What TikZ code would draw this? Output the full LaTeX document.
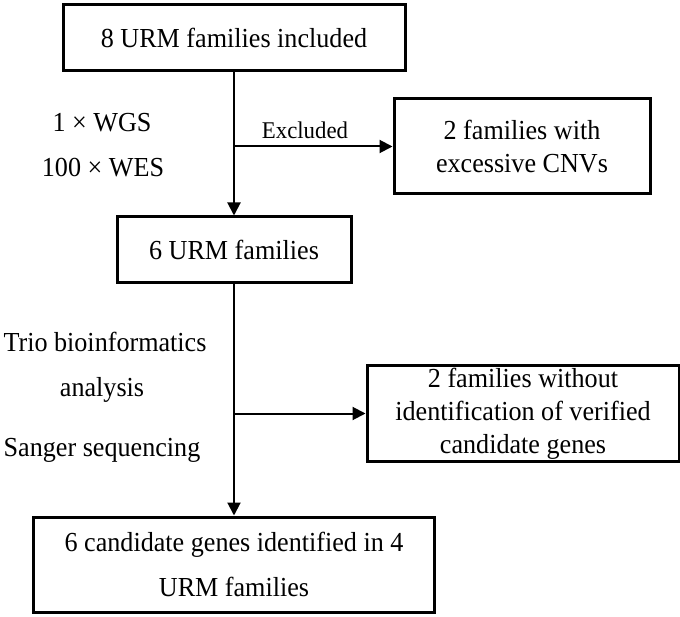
\documentclass[tikz,border=0pt]{standalone}
\usepackage{fontspec}
\setmainfont{Liberation Serif}[FakeStretch=0.95]
\usetikzlibrary{arrows.meta}
\begin{document}
\begin{tikzpicture}[x=1pt,y=-1pt,
  box/.style={draw, line width=3pt, inner sep=0pt, align=center, font=\fontsize{27.5}{33}\selectfont},
  lbl/.style={font=\fontsize{27.5}{30}\selectfont, inner sep=0pt, anchor=base},
  conn/.style={line width=2pt, -{Triangle[length=13pt,width=13pt]}}]
\useasboundingbox (0,0) rectangle (680,617);
\fill[white] (0,0) rectangle (680,617);
\node[box, minimum width=342pt, minimum height=66pt] (b1) at (234,38) {8 URM families included};
\node[box, minimum width=256pt, minimum height=95pt] (b2) at (522,146.5) {2 families with\\excessive CNVs};
\node[box, minimum width=234pt, minimum height=66pt] (b3) at (234,250) {6 URM families};
\node[box, minimum width=312pt, minimum height=95pt] (b5) at (523,413.5) {2 families without\\identification of verified\\candidate genes};
\node[box, minimum width=401pt, minimum height=95pt, font=\fontsize{27.5}{45}\selectfont] (b4) at (234,564.5) {6 candidate genes identified in 4\\URM families};
\coordinate (j1) at (234,146.5);
\coordinate (j2) at (234,413.5);
\draw[conn] (b1.south) -- (b3.north);
\draw[conn] (j1) -- (b2.west);
\draw[conn] (b3.south) -- (b4.north);
\draw[conn] (j2) -- (b5.west);
\node[lbl, font=\fontsize{24}{28}\selectfont] (ex) at (305,139) {Excluded};
\node[lbl] (wgs) at (102,132) {1 × WGS};
\node[lbl] (wes) at (103,177) {100 × WES};
\node[lbl] (trio) at (105,352) {Trio bioinformatics};
\node[lbl] (ana) at (102,397) {analysis};
\node[lbl] (san) at (102,456) {Sanger sequencing};
\end{tikzpicture}
\end{document}
